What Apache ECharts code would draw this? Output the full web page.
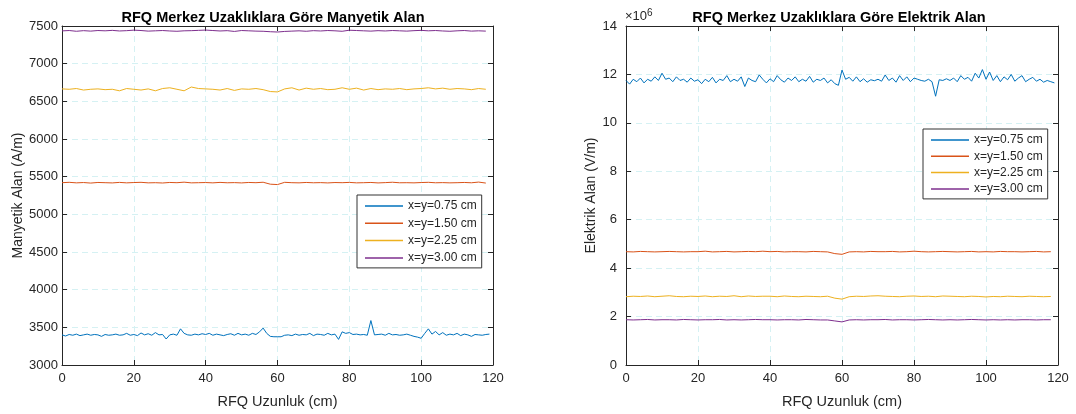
<!DOCTYPE html>
<html>
<head>
<meta charset="utf-8">
<script src="https://cdn.jsdelivr.net/npm/echarts@6/dist/echarts.min.js"></script>
<style>
  html, body { margin: 0; padding: 0; background: #fff; }
  #chart { width: 1076px; height: 414px; }
</style>
</head>
<body>
<div id="chart"></div>
<script>
// x positions (cm)
const xs1 = [0,1,2,3,4,5,6,7,8,9,10,11,12,13,14,15,16,17,18,19,20,21,22,23,24,25,26,27,28,29,
  30,31,32,33,34,35,36,37,38,39,40,41,42,43,44,45,46,47,48,49,50,51,52,53,54,55,56,57,58,59,
  60,61,62,63,64,65,66,67,68,69,70,71,72,73,74,75,76,77,78,79,80,81,82,83,84,85,86,87,88,89,
  90,91,92,93,94,95,96,97,98,99,100,101,102,103,104,105,106,107,108,109,110,111,112,113,114,115,116,117,118,119];
const xs2 = [0,2,4,6,8,10,12,14,16,18,20,22,24,26,28,30,32,34,36,38,40,42,44,46,48,50,52,54,56,58,
  60,62,64,66,68,70,72,74,76,78,80,82,84,86,88,90,92,94,96,98,100,102,104,106,108,110,112,114,116,118];

const names = ['x=y=0.75 cm', 'x=y=1.50 cm', 'x=y=2.25 cm', 'x=y=3.00 cm'];
const colors = ['#0072BD', '#D95319', '#EDB120', '#7E2F8E'];

// Manyetik alan (A/m)
const hBlue = [3400,3385,3405,3395,3410,3390,3400,3410,3395,3405,
  3400,3380,3405,3395,3400,3410,3395,3400,3420,3395,
  3405,3390,3425,3400,3415,3395,3430,3400,3405,3345,
  3400,3410,3395,3480,3420,3400,3395,3410,3400,3415,
  3405,3420,3395,3410,3400,3390,3405,3415,3395,3420,
  3400,3410,3395,3420,3405,3440,3490,3420,3380,3375,
  3375,3375,3395,3400,3390,3410,3395,3405,3400,3420,
  3390,3410,3405,3395,3420,3400,3410,3340,3440,3420,
  3430,3405,3410,3400,3405,3395,3590,3400,3405,3410,
  3395,3420,3400,3405,3395,3400,3410,3395,3380,3370,
  3355,3420,3480,3410,3445,3400,3430,3395,3410,3400,
  3420,3390,3410,3400,3380,3405,3400,3395,3405,3410];
const hOrange = [5420,5425,5418,5422,5415,5423,5420,5417,5424,5418,
  5422,5425,5418,5420,5416,5423,5420,5427,5418,5420,
  5422,5418,5424,5419,5421,5417,5423,5420,5426,5400,
  5395,5425,5420,5418,5423,5419,5421,5417,5422,5420,
  5424,5418,5420,5423,5417,5421,5426,5419,5420,5418,
  5422,5425,5419,5421,5418,5420,5423,5419,5428,5415];
const hYellow = [6665,6660,6670,6650,6660,6665,6655,6660,6640,6670,
  6660,6650,6665,6640,6670,6680,6660,6640,6690,6670,
  6665,6660,6650,6670,6645,6665,6660,6670,6655,6630,
  6625,6665,6680,6650,6675,6660,6670,6655,6660,6680,
  6660,6675,6650,6670,6655,6665,6660,6670,6655,6665,
  6670,6680,6665,6675,6660,6670,6665,6655,6670,6660];
const hPurple = [7435,7440,7430,7438,7432,7440,7436,7442,7434,7438,
  7445,7440,7432,7436,7440,7434,7430,7436,7438,7442,
  7446,7440,7434,7438,7428,7440,7436,7432,7430,7424,
  7420,7428,7432,7436,7430,7438,7434,7440,7436,7430,
  7444,7440,7436,7432,7438,7434,7440,7436,7432,7438,
  7442,7436,7440,7434,7430,7436,7440,7432,7436,7432];

// Elektrik alan (x10^6 V/m)
const eBlue = [11.75,11.6,11.8,11.7,11.85,11.65,11.8,11.72,11.9,11.75,
  12.05,11.8,11.85,11.7,11.9,11.75,11.8,11.68,11.85,11.72,
  11.78,11.62,11.8,11.7,11.88,11.65,11.8,11.75,11.95,11.7,
  11.8,11.72,11.9,11.5,11.85,11.75,11.7,11.98,11.8,11.65,
  11.82,11.7,11.95,11.78,11.68,11.85,11.75,11.9,11.7,11.8,
  11.72,11.92,11.68,11.8,11.75,11.85,11.65,11.78,11.62,11.55,
  12.18,11.8,11.88,11.72,11.9,11.7,11.82,11.68,11.78,11.74,
  11.8,11.72,11.98,11.75,11.85,11.68,11.95,11.75,11.9,11.7,
  11.85,11.8,11.75,11.72,11.8,11.7,11.1,11.78,11.75,11.82,
  11.75,11.85,11.7,11.95,11.8,11.88,11.72,12.05,11.85,12.2,
  11.8,12.1,11.75,11.95,11.7,11.9,11.78,12.0,11.72,11.85,
  11.95,11.7,11.8,11.88,11.72,11.8,11.68,11.75,11.7,11.65];
const eOrange = [4.68,4.67,4.69,4.68,4.67,4.68,4.69,4.68,4.67,4.68,
  4.68,4.7,4.67,4.68,4.69,4.67,4.68,4.69,4.68,4.7,
  4.68,4.69,4.67,4.68,4.68,4.67,4.69,4.68,4.67,4.6,
  4.57,4.67,4.68,4.67,4.69,4.68,4.68,4.69,4.67,4.68,
  4.7,4.68,4.67,4.68,4.69,4.68,4.67,4.68,4.69,4.67,
  4.68,4.67,4.69,4.68,4.68,4.67,4.68,4.69,4.67,4.68];
const eYellow = [2.82,2.84,2.83,2.85,2.82,2.84,2.86,2.83,2.82,2.84,
  2.83,2.85,2.82,2.84,2.83,2.86,2.82,2.85,2.83,2.84,
  2.84,2.82,2.85,2.83,2.82,2.84,2.83,2.82,2.84,2.76,
  2.72,2.82,2.84,2.83,2.85,2.86,2.84,2.83,2.82,2.84,
  2.85,2.83,2.84,2.82,2.85,2.84,2.83,2.82,2.84,2.83,
  2.81,2.83,2.82,2.84,2.83,2.82,2.84,2.83,2.82,2.83];
const ePurple = [1.87,1.86,1.87,1.88,1.86,1.87,1.87,1.86,1.88,1.87,
  1.86,1.87,1.87,1.88,1.86,1.87,1.86,1.87,1.88,1.87,
  1.87,1.86,1.87,1.87,1.86,1.88,1.87,1.86,1.86,1.82,
  1.78,1.86,1.87,1.86,1.87,1.87,1.88,1.86,1.87,1.87,
  1.86,1.87,1.88,1.87,1.86,1.87,1.86,1.87,1.88,1.87,
  1.86,1.87,1.86,1.87,1.86,1.87,1.87,1.86,1.87,1.87];

const font = 'Arial, "Liberation Sans", sans-serif';
const ink = '#262626';

const pairs = (xs, ys) => xs.map((x, i) => [x, ys[i]]);

const xAxisOf = (grid, bottom) => ({
  type: 'value', gridIndex: grid, min: 0, max: 120, interval: 20,
  position: bottom ? 'bottom' : 'top',
  name: bottom ? 'RFQ Uzunluk (cm)' : '',
  nameLocation: 'middle', nameGap: 29,
  nameTextStyle: { fontFamily: font, fontSize: 14.5, color: ink },
  axisLine: { show: true, onZero: false, lineStyle: { color: ink, width: 1 } },
  axisTick: { show: true, inside: true, length: 5, lineStyle: { color: ink } },
  axisLabel: { show: bottom, fontFamily: font, fontSize: 13, color: ink, margin: 7,
    formatter: v => String(v) },
  splitLine: { show: bottom, lineStyle: { color: '#d5f1f3', type: [6, 4], width: 1 } }
});

const yAxisOf = (grid, left, o) => ({
  type: 'value', gridIndex: grid, min: o.min, max: o.max, interval: o.interval,
  position: left ? 'left' : 'right',
  name: left ? o.name : '',
  nameLocation: 'middle', nameGap: o.gap,
  nameTextStyle: { fontFamily: font, fontSize: 14, color: ink },
  axisLine: { show: true, onZero: false, lineStyle: { color: ink, width: 1 } },
  axisTick: { show: true, inside: true, length: 5, lineStyle: { color: ink } },
  axisLabel: { show: left, fontFamily: font, fontSize: 13, color: ink, margin: o.margin,
    formatter: v => String(v) },
  splitLine: { show: left, lineStyle: { color: '#d5f1f3', type: [6, 4], width: 1 } }
});

const lineSeries = (name, color, x, y, data) => ({
  name: name, type: 'line', xAxisIndex: x, yAxisIndex: y,
  data: data, symbol: 'none', smooth: false, animation: false,
  lineStyle: { color: color, width: 1 }, itemStyle: { color: color }
});

const legendOf = (left, top, gap) => ({
  orient: 'vertical', left: left, top: top,
  data: names, icon: 'rect', itemWidth: 38, itemHeight: 1.5, itemGap: gap,
  padding: [5, 5, 4, 8], backgroundColor: '#fff',
  borderColor: '#333', borderWidth: 1,
  textStyle: { fontFamily: font, fontSize: 12, color: ink, lineHeight: 12 }
});

const chart = echarts.init(document.getElementById('chart'), null, { renderer: 'canvas' });

const option = {
  backgroundColor: '#fff',
  animation: false,
  title: [
    { text: 'RFQ Merkez Uzaklıklara Göre Manyetik Alan', left: 268, top: 5, textAlign: 'center',
      textStyle: { fontFamily: font, fontSize: 14.5, fontWeight: 'bold', color: '#000' } },
    { text: 'RFQ Merkez Uzaklıklara Göre Elektrik Alan', left: 834, top: 5, textAlign: 'center',
      textStyle: { fontFamily: font, fontSize: 14.5, fontWeight: 'bold', color: '#000' } }
  ],
  legend: [legendOf(357, 195, 5.3), legendOf(923, 129, 4.3)],
  grid: [
    { left: 62, right: 583, top: 26, bottom: 49, containLabel: false },
    { left: 626, right: 18, top: 26, bottom: 48, containLabel: false }
  ],
  xAxis: [xAxisOf(0, true), xAxisOf(0, false), xAxisOf(1, true), xAxisOf(1, false)],
  yAxis: [
    yAxisOf(0, true, { min: 3000, max: 7500, interval: 500, name: 'Manyetik Alan (A/m)', gap: 37, margin: 4 }),
    yAxisOf(0, false, { min: 3000, max: 7500, interval: 500 }),
    yAxisOf(1, true, { min: 0, max: 14, interval: 2, name: 'Elektrik Alan (V/m)', gap: 23, margin: 9 }),
    yAxisOf(1, false, { min: 0, max: 14, interval: 2 })
  ],
  graphic: [
    { type: 'text', left: 625, top: 8,
      style: { text: '×10{s|6}', fontFamily: font, fontSize: 13, fill: ink,
        rich: { s: { fontSize: 10, verticalAlign: 'top', padding: [0, 0, 7, 0], fill: ink } } } }
  ],
  series: [
    lineSeries(names[0], colors[0], 0, 0, pairs(xs1, hBlue)),
    lineSeries(names[1], colors[1], 0, 0, pairs(xs2, hOrange)),
    lineSeries(names[2], colors[2], 0, 0, pairs(xs2, hYellow)),
    lineSeries(names[3], colors[3], 0, 0, pairs(xs2, hPurple)),
    lineSeries(names[0], colors[0], 2, 2, pairs(xs1, eBlue)),
    lineSeries(names[1], colors[1], 2, 2, pairs(xs2, eOrange)),
    lineSeries(names[2], colors[2], 2, 2, pairs(xs2, eYellow)),
    lineSeries(names[3], colors[3], 2, 2, pairs(xs2, ePurple))
  ]
};

chart.setOption(option);
</script>
</body>
</html>
